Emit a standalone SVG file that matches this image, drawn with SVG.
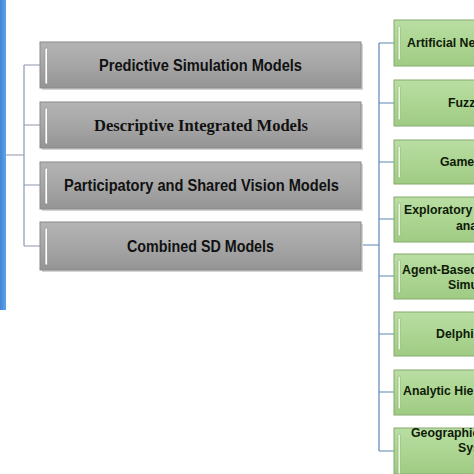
<svg xmlns="http://www.w3.org/2000/svg" width="474" height="474" viewBox="0 0 474 474">
  <defs>
    <linearGradient id="gGray" x1="0" y1="0" x2="0" y2="1">
      <stop offset="0" stop-color="#b4b4b4"/>
      <stop offset="0.5" stop-color="#a6a6a6"/>
      <stop offset="1" stop-color="#949494"/>
    </linearGradient>
    <linearGradient id="gGreen" x1="0" y1="0" x2="0" y2="1">
      <stop offset="0" stop-color="#b9dea3"/>
      <stop offset="0.5" stop-color="#acd592"/>
      <stop offset="1" stop-color="#9fcb84"/>
    </linearGradient>
    <linearGradient id="gBlue" x1="0" y1="0" x2="1" y2="0">
      <stop offset="0" stop-color="#3f86d6"/>
      <stop offset="1" stop-color="#62a3e6"/>
    </linearGradient>
  </defs>
  <style>
    .gray { fill: url(#gGray); stroke: #8a8a8a; stroke-width: 1; }
    .shadow { fill: #d4d4d4; }
    .green { fill: url(#gGreen); stroke: #86aa6c; stroke-width: 1; }
    .hlg { fill: #ffffff; stroke: #8c8c8c; stroke-width: 0.6; }
    .hlr { fill: #e6f6da; stroke: #8fb276; stroke-width: 0.6; }
    .conL { stroke: #8a98ac; stroke-width: 1.2; fill: none; }
    .conR { stroke: #5f84b8; stroke-width: 1.2; fill: none; }
    .t1 { font-family: "Liberation Sans", Arial, sans-serif; font-weight: bold; font-size: 16px; fill: #111; }
    .t2 { font-family: "Liberation Serif", "Times New Roman", serif; font-weight: bold; font-size: 17.5px; fill: #111; }
    .t3 { font-family: "Liberation Sans", Arial, sans-serif; font-weight: bold; font-size: 12.3px; fill: #0f1a08; }
  </style>

  <rect id="root" x="0" y="0" width="6" height="310" fill="url(#gBlue)"/>

  <g id="connectors">
    <path class="conL" d="M6 155 H24 M24 65 V246 M24 65 H40 M24 125 H40 M24 185 H40 M24 246 H40"/>
    <path class="conR" d="M361 245 H379 M379 43 V451 M379 43 H394 M379 103 H394 M379 162 H394 M379 219 H394 M379 276 H394 M379 334 H394 M379 392 H394 M379 451 H394"/>
  </g>

  <g id="n-predictive">
    <rect class="shadow" x="42" y="44" width="321" height="46"/>
    <rect class="gray" x="40" y="42" width="321" height="46"/>
    <rect class="hlg" x="45" y="48" width="2.5" height="36" rx="1.2"/>
    <text class="t1" x="99" y="71" textLength="203" lengthAdjust="spacingAndGlyphs">Predictive Simulation Models</text>
  </g>
  <g id="n-descriptive">
    <rect class="shadow" x="42" y="104" width="321" height="46"/>
    <rect class="gray" x="40" y="102" width="321" height="46"/>
    <rect class="hlg" x="45" y="108" width="2.5" height="36" rx="1.2"/>
    <text class="t2" x="94" y="131" textLength="214" lengthAdjust="spacingAndGlyphs">Descriptive Integrated Models</text>
  </g>
  <g id="n-participatory">
    <rect class="shadow" x="42" y="164" width="321" height="47"/>
    <rect class="gray" x="40" y="162" width="321" height="47"/>
    <rect class="hlg" x="45" y="168" width="2.5" height="36" rx="1.2"/>
    <text class="t1" x="64" y="191" textLength="275" lengthAdjust="spacingAndGlyphs">Participatory and Shared Vision Models</text>
  </g>
  <g id="n-combined">
    <rect class="shadow" x="42" y="224" width="321" height="48"/>
    <rect class="gray" x="40" y="222" width="321" height="48"/>
    <rect class="hlg" x="45" y="228" width="2.5" height="37" rx="1.2"/>
    <text class="t1" x="127" y="252" textLength="147" lengthAdjust="spacingAndGlyphs">Combined SD Models</text>
  </g>

  <g id="n-ann">
    <rect class="green" x="394" y="20" width="100" height="46"/>
    <rect class="hlr" x="398" y="26" width="2.5" height="34" rx="1.2"/>
    <text class="t3" x="407" y="47">Artificial Neural Networks</text>
  </g>
  <g id="n-fuzzy">
    <rect class="green" x="394" y="80" width="100" height="46"/>
    <rect class="hlr" x="398" y="86" width="2.5" height="34" rx="1.2"/>
    <text class="t3" x="448" y="107">Fuzzy Logic</text>
  </g>
  <g id="n-game">
    <rect class="green" x="394" y="140" width="100" height="44"/>
    <rect class="hlr" x="398" y="146" width="2.5" height="32" rx="1.2"/>
    <text class="t3" x="440" y="166">Game Theory</text>
  </g>
  <g id="n-exploratory">
    <rect class="green" x="394" y="197" width="100" height="45"/>
    <rect class="hlr" x="398" y="203" width="2.5" height="33" rx="1.2"/>
    <text class="t3" x="404" y="214">Exploratory Modeling and</text>
    <text class="t3" x="456" y="230">analysis</text>
  </g>
  <g id="n-abm">
    <rect class="green" x="394" y="254" width="100" height="45"/>
    <rect class="hlr" x="398" y="260" width="2.5" height="33" rx="1.2"/>
    <text class="t3" x="402" y="274">Agent-Based Modeling and</text>
    <text class="t3" x="448" y="289">Simulation</text>
  </g>
  <g id="n-delphi">
    <rect class="green" x="394" y="312" width="100" height="44"/>
    <rect class="hlr" x="398" y="318" width="2.5" height="32" rx="1.2"/>
    <text class="t3" x="436" y="338">Delphi Method</text>
  </g>
  <g id="n-ahp">
    <rect class="green" x="394" y="370" width="100" height="45"/>
    <rect class="hlr" x="398" y="376" width="2.5" height="33" rx="1.2"/>
    <text class="t3" x="403" y="395">Analytic Hierarchy Process</text>
  </g>
  <g id="n-gis">
    <rect class="green" x="394" y="428" width="100" height="46"/>
    <rect class="hlr" x="398" y="434" width="2.5" height="40" rx="1.2"/>
    <text class="t3" x="411" y="437">Geographic Information</text>
    <text class="t3" x="458" y="452">Systems</text>
  </g>
</svg>
